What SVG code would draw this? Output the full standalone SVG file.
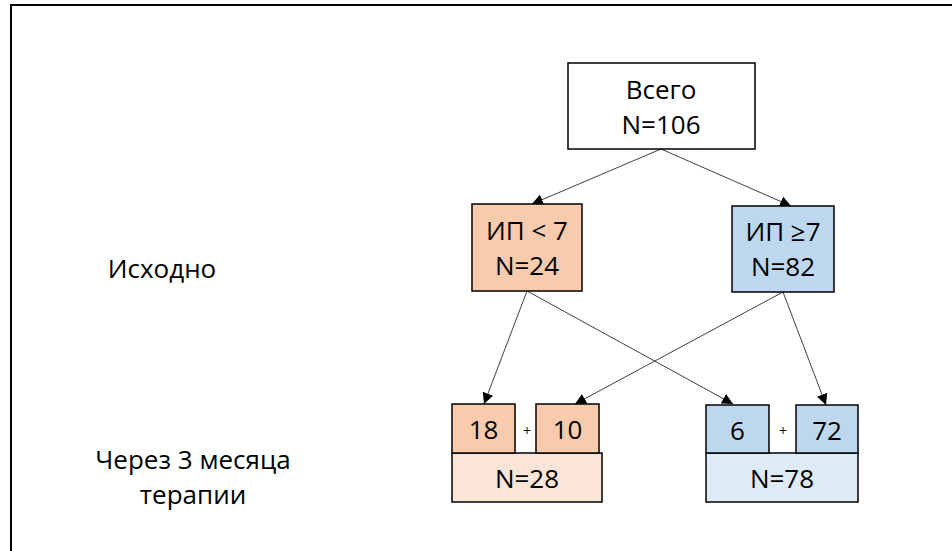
<svg xmlns="http://www.w3.org/2000/svg" width="952" height="551" viewBox="0 0 952 551">
<defs>
<marker id="ah" viewBox="0 0 10 10" refX="10" refY="5" markerWidth="11" markerHeight="11" markerUnits="userSpaceOnUse" orient="auto">
<path d="M0,0 L10,5 L0,10 z" fill="#000"/>
</marker>
<style>
.t{font-family:"Open Sans","Liberation Sans",sans-serif;font-size:26px;fill:#000;text-anchor:middle}
.p{font-family:"Open Sans","Liberation Sans",sans-serif;font-size:14px;fill:#000;text-anchor:middle}
.b{stroke:#000;stroke-width:1.5}
.c{stroke:#404040;stroke-width:1;fill:none;marker-end:url(#ah)}
</style>
</defs>
<rect x="0" y="0" width="952" height="551" fill="#fff"/>
<rect x="11" y="5" width="1000" height="600" fill="none" stroke="#000" stroke-width="2"/>
<g id="connectors">
<line class="c" x1="661" y1="149" x2="532" y2="204"/>
<line class="c" x1="661" y1="149" x2="791" y2="206"/>
<line class="c" x1="527" y1="291" x2="484" y2="404"/>
<line class="c" x1="527" y1="291" x2="733" y2="404"/>
<line class="c" x1="783" y1="292" x2="575" y2="404"/>
<line class="c" x1="783" y1="292" x2="826" y2="405"/>
</g>
<g id="total">
<rect class="b" x="568" y="63" width="187" height="86" fill="#fff"/>
<text class="t" x="661" y="99">Всего</text>
<text class="t" x="661" y="134">N=106</text>
</g>
<g id="low">
<rect class="b" x="472" y="204" width="110" height="87" fill="#F8CBAD"/>
<text class="t" x="527" y="240">ИП &lt; 7</text>
<text class="t" x="527" y="275">N=24</text>
</g>
<g id="high">
<rect class="b" x="732" y="206" width="102" height="86" fill="#BDD7EE"/>
<text class="t" x="783" y="241">ИП ≥7</text>
<text class="t" x="783" y="276">N=82</text>
</g>
<g id="label-baseline">
<text class="t" x="162" y="278">Исходно</text>
</g>
<g id="label-3m">
<text class="t" x="193" y="469">Через 3 месяца</text>
<text class="t" x="193" y="504">терапии</text>
</g>
<g id="group28">
<rect class="b" x="452" y="453" width="150" height="49" fill="#FBE5D6"/>
<rect class="b" x="452" y="404" width="63" height="49" fill="#F8CBAD"/>
<rect class="b" x="536" y="404" width="63" height="49" fill="#F8CBAD"/>
<text class="t" x="483.5" y="439">18</text>
<text class="t" x="567.5" y="439">10</text>
<text class="p" x="527" y="436">+</text>
<text class="t" x="527" y="488">N=28</text>
</g>
<g id="group78">
<rect class="b" x="706" y="453" width="152" height="49" fill="#DEEBF7"/>
<rect class="b" x="706" y="405" width="63" height="48" fill="#BDD7EE"/>
<rect class="b" x="796" y="405" width="62" height="48" fill="#BDD7EE"/>
<text class="t" x="737.5" y="440">6</text>
<text class="t" x="827" y="440">72</text>
<text class="p" x="783" y="436">+</text>
<text class="t" x="782" y="488">N=78</text>
</g>
</svg>
